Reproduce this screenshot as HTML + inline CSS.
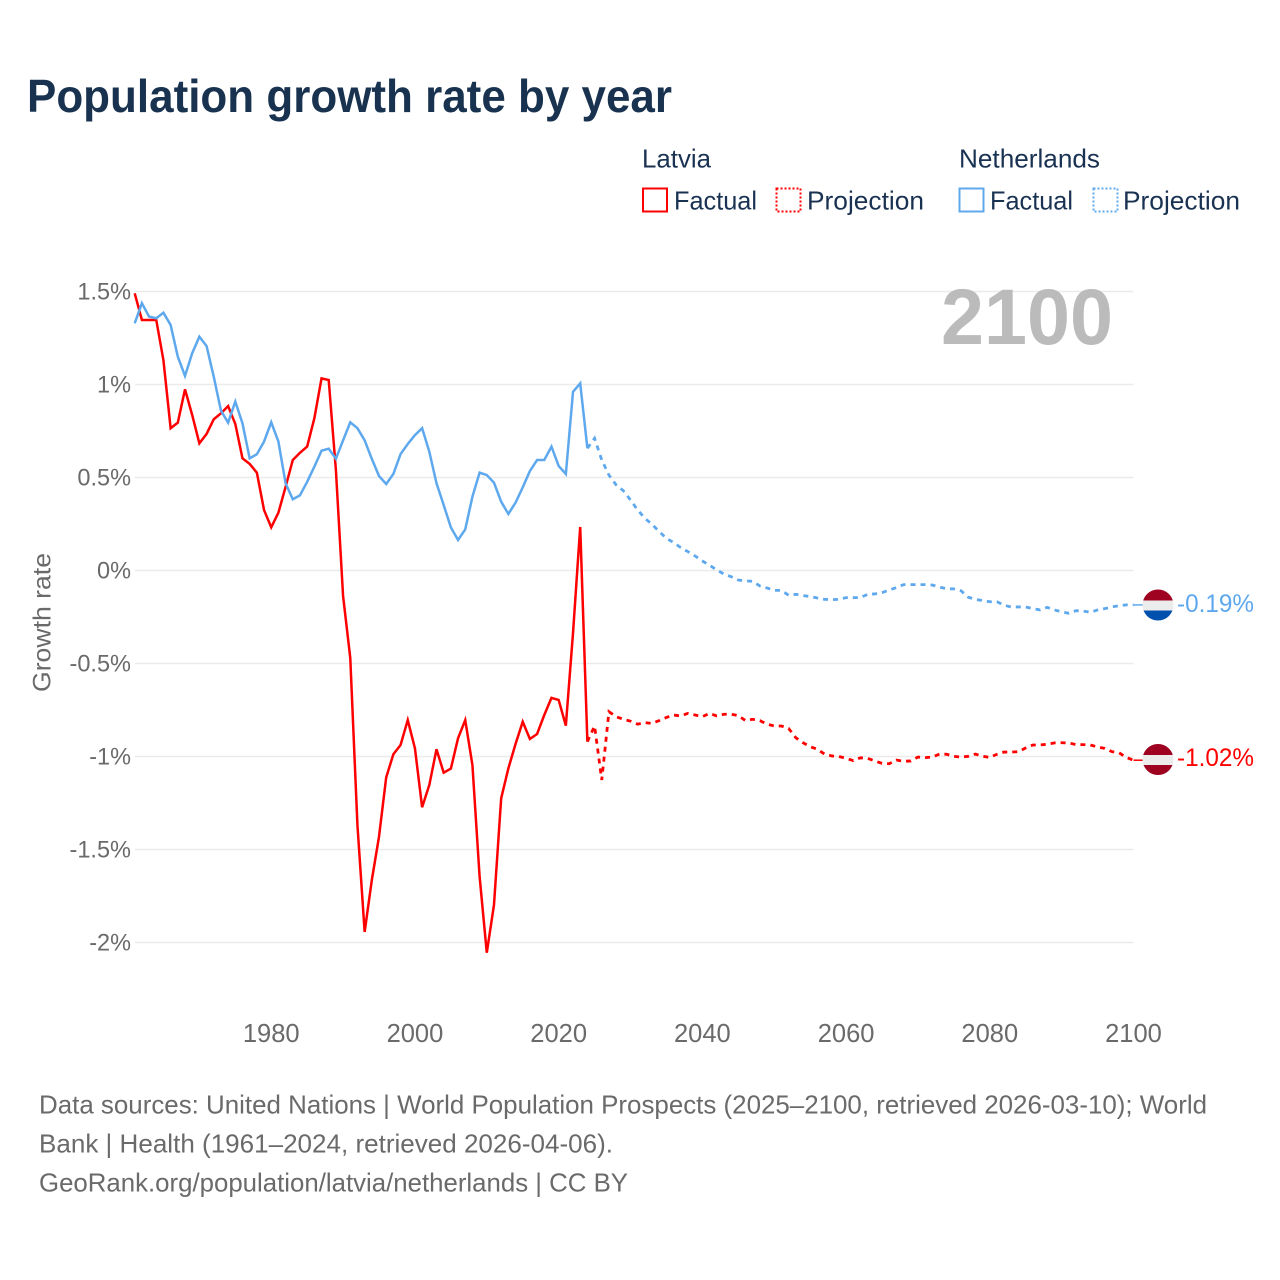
<!DOCTYPE html>
<html lang="en">
<head>
<meta charset="utf-8">
<title>Population growth rate by year</title>
<style>
html,body{margin:0;padding:0;background:#fff;}
svg{display:block;font-family:"Liberation Sans",sans-serif;}
</style>
</head>
<body>
<svg id="chart" xmlns="http://www.w3.org/2000/svg" width="1280" height="1280" viewBox="0 0 1280 1280">
  <rect width="1280" height="1280" fill="#fff"/>
  <text x="27" y="112" font-size="46" font-weight="700" fill="#18324f" textLength="645" lengthAdjust="spacingAndGlyphs">Population growth rate by year</text>

  <g font-size="26" fill="#1a3252">
    <text x="642" y="167.500" textLength="69" lengthAdjust="spacingAndGlyphs">Latvia</text>
    <text x="959" y="167.500" textLength="141" lengthAdjust="spacingAndGlyphs">Netherlands</text>
    <rect x="643" y="188.500" width="24" height="23" fill="none" stroke="#ff0000" stroke-width="2"/>
    <text x="674" y="209.500" textLength="83" lengthAdjust="spacingAndGlyphs">Factual</text>
    <rect x="776.500" y="188.500" width="24" height="23" fill="none" stroke="#ff0000" stroke-width="2" stroke-dasharray="2 2"/>
    <text x="807" y="209.500" textLength="117" lengthAdjust="spacingAndGlyphs">Projection</text>
    <rect x="959.500" y="188.500" width="24" height="23" fill="none" stroke="#5ea8ee" stroke-width="2"/>
    <text x="990" y="209.500" textLength="83" lengthAdjust="spacingAndGlyphs">Factual</text>
    <rect x="1093.500" y="188.500" width="24" height="23" fill="none" stroke="#5ea8ee" stroke-width="2" stroke-dasharray="2 2"/>
    <text x="1123" y="209.500" textLength="117" lengthAdjust="spacingAndGlyphs">Projection</text>
  </g>

  <g id="grid"></g>
  <g id="yticks" font-size="24.500" fill="#6a6a6a"></g>
  <g id="xticks" font-size="25.500" fill="#6a6a6a"></g>
  <text transform="translate(50.500,622.500) rotate(-90)" text-anchor="middle" font-size="25" fill="#6a6a6a" textLength="139" lengthAdjust="spacingAndGlyphs">Growth rate</text>
  <text x="941" y="344" font-size="79" font-weight="700" fill="#bbbbbb" textLength="172" lengthAdjust="spacingAndGlyphs">2100</text>

  <g id="series"></g>

  <g>
    <clipPath id="clip-nl"><circle cx="1158" cy="605" r="15.500"/></clipPath>
    <g clip-path="url(#clip-nl)">
      <rect x="1142" y="589" width="32" height="11.500" fill="#9e0220"/>
      <rect x="1142" y="600.500" width="32" height="10" fill="#ececec"/>
      <rect x="1142" y="610.500" width="32" height="11" fill="#0250ad"/>
    </g>
    <text x="1177" y="612" font-size="25" fill="#5ea8ee" textLength="77" lengthAdjust="spacingAndGlyphs">-0.19%</text>
  </g>
  <g>
    <clipPath id="clip-lv"><circle cx="1158" cy="759.500" r="15.500"/></clipPath>
    <g clip-path="url(#clip-lv)">
      <rect x="1142" y="743" width="32" height="12" fill="#9e0220"/>
      <rect x="1142" y="755" width="32" height="10" fill="#ececec"/>
      <rect x="1142" y="765" width="32" height="11" fill="#9e0220"/>
    </g>
    <text x="1177" y="766" font-size="25" fill="#ff0000" textLength="77" lengthAdjust="spacingAndGlyphs">-1.02%</text>
  </g>

  <g font-size="26" fill="#6a6a6a">
    <text x="39" y="1113.500" textLength="1168" lengthAdjust="spacingAndGlyphs">Data sources: United Nations | World Population Prospects (2025–2100, retrieved 2026-03-10); World</text>
    <text x="39" y="1152.500" textLength="574" lengthAdjust="spacingAndGlyphs">Bank | Health (1961–2024, retrieved 2026-04-06).</text>
    <text x="39" y="1191.500" textLength="589" lengthAdjust="spacingAndGlyphs">GeoRank.org/population/latvia/netherlands | CC BY</text>
  </g>
</svg>

<script>
const factualStartYear = 1961;
const projectionStartYear = 2024;
const yTickValues = [1.5, 1, 0.5, 0, -0.5, -1, -1.5, -2];
const yTickLabels = ["1.5%", "1%", "0.5%", "0%", "-0.5%", "-1%", "-1.5%", "-2%"];
const xTickValues = [1980, 2000, 2020, 2040, 2060, 2080, 2100];

const latviaFactual = [
  1.49, 1.347, 1.347, 1.347, 1.13, 0.765, 0.795, 0.974, 0.836, 0.684,
  0.734, 0.813, 0.845, 0.884, 0.788, 0.603, 0.573, 0.526, 0.325, 0.232,
  0.311, 0.45, 0.594, 0.633, 0.666, 0.818, 1.033, 1.024, 0.54, -0.137,
  -0.47, -1.37, -1.943, -1.664, -1.431, -1.112, -0.988, -0.938, -0.804, -0.956,
  -1.273, -1.153, -0.961, -1.087, -1.065, -0.902, -0.804, -1.046, -1.646, -2.055,
  -1.798, -1.225, -1.064, -0.933, -0.813, -0.906, -0.879, -0.777, -0.685, -0.696,
  -0.834, -0.336, 0.234, -0.92
];
const latviaProjection = [
  -0.92, -0.836, -1.126, -0.759, -0.786, -0.8, -0.81, -0.826, -0.818, -0.822,
  -0.807, -0.79, -0.777, -0.782, -0.768, -0.777, -0.786, -0.768, -0.782, -0.773,
  -0.773, -0.78, -0.807, -0.8, -0.807, -0.826, -0.836, -0.836, -0.849, -0.899,
  -0.926, -0.947, -0.961, -0.987, -0.997, -1.0, -1.01, -1.022, -1.007, -1.01,
  -1.024, -1.037, -1.039, -1.019, -1.026, -1.024, -1.003, -1.006, -1.003, -0.987,
  -0.988, -0.999, -1.003, -0.999, -0.987, -0.999, -1.005, -0.988, -0.976, -0.976,
  -0.974, -0.954, -0.938, -0.938, -0.934, -0.927, -0.926, -0.927, -0.936, -0.936,
  -0.938, -0.949, -0.956, -0.974, -0.98, -1.005, -1.02
];
const netherlandsFactual = [
  1.329, 1.437, 1.365, 1.356, 1.386, 1.32, 1.15, 1.046, 1.168, 1.257,
  1.207, 1.042, 0.86, 0.795, 0.908, 0.791, 0.603, 0.625, 0.693, 0.797,
  0.693, 0.469, 0.383, 0.404, 0.477, 0.558, 0.644, 0.655, 0.601, 0.7,
  0.797, 0.765, 0.7, 0.6, 0.508, 0.465, 0.519, 0.626, 0.68, 0.728,
  0.765, 0.639, 0.469, 0.352, 0.232, 0.164, 0.221, 0.397, 0.526, 0.513,
  0.472, 0.37, 0.304, 0.365, 0.447, 0.535, 0.594, 0.594, 0.666, 0.562,
  0.519, 0.961, 1.006, 0.657
];
const netherlandsProjection = [
  0.657, 0.711, 0.594, 0.513, 0.46, 0.429, 0.379, 0.325, 0.281, 0.248,
  0.209, 0.173, 0.15, 0.123, 0.101, 0.078, 0.051, 0.028, 0.003, -0.019,
  -0.033, -0.051, -0.056, -0.058, -0.083, -0.094, -0.107, -0.107, -0.133, -0.128,
  -0.135, -0.14, -0.148, -0.155, -0.157, -0.155, -0.146, -0.146, -0.146, -0.128,
  -0.126, -0.119, -0.105, -0.092, -0.076, -0.076, -0.076, -0.076, -0.078, -0.089,
  -0.098, -0.099, -0.109, -0.144, -0.155, -0.162, -0.168, -0.168, -0.187, -0.196,
  -0.196, -0.196, -0.205, -0.212, -0.198, -0.212, -0.222, -0.23, -0.216, -0.218,
  -0.225, -0.212, -0.205, -0.196, -0.189, -0.185, -0.185
];

const SVG_NS = "http://www.w3.org/2000/svg";
const colorLatvia = "#ff0000";
const colorNetherlands = "#5ea8ee";

function xScale(year) {
  return 134.7 + (year - 1961) * (1133.5 - 134.7) / (2100 - 1961);
}
function yScale(value) {
  return 570.5 - value * 186;
}
function make(tag, parent) {
  const node = document.createElementNS(SVG_NS, tag);
  parent.appendChild(node);
  return node;
}
function pointsFrom(values, startYear) {
  return values.map(function (v, i) {
    return xScale(startYear + i).toFixed(2) + "," + yScale(v).toFixed(2);
  }).join(" ");
}

const gridGroup = document.getElementById("grid");
const yTickGroup = document.getElementById("yticks");
const xTickGroup = document.getElementById("xticks");
const seriesGroup = document.getElementById("series");

yTickValues.forEach(function (value, i) {
  const line = make("line", gridGroup);
  
  
  line.setAttribute("x1", 135);
  line.setAttribute("x2", 1133.5);
  line.setAttribute("y1", yScale(value));
  line.setAttribute("y2", yScale(value));
  line.setAttribute("stroke", "#ebebeb");
  line.setAttribute("stroke-width", 1.5);

  const label = make("text", yTickGroup);
  
  
  label.setAttribute("x", 131);
  label.setAttribute("y", yScale(value) + 8);
  label.setAttribute("text-anchor", "end");
  label.textContent = yTickLabels[i];
  label.setAttribute("textLength", (label.getComputedTextLength() * 0.96).toFixed(1));
  label.setAttribute("lengthAdjust", "spacingAndGlyphs");
});

xTickValues.forEach(function (year) {
  const label = make("text", xTickGroup);
  
  
  label.setAttribute("x", xScale(year));
  label.setAttribute("y", 1042);
  label.setAttribute("text-anchor", "middle");
  label.textContent = String(year);
});

function drawLine(values, startYear, color, dashed, name) {
  const line = make("polyline", seriesGroup);
  
  
  line.setAttribute("points", pointsFrom(values, startYear));
  line.setAttribute("fill", "none");
  line.setAttribute("stroke", color);
  line.setAttribute("stroke-width", dashed ? 2.8 : 2.5);
  line.setAttribute("stroke-linejoin", "miter");
  if (dashed) {
    line.setAttribute("stroke-dasharray", "5 5");
  }
}
function drawConnector(lastValue, color, name) {
  const line = make("line", seriesGroup);
  
  
  line.setAttribute("x1", xScale(2100));
  line.setAttribute("x2", 1144);
  line.setAttribute("y1", yScale(lastValue));
  line.setAttribute("y2", yScale(lastValue));
  line.setAttribute("stroke", color);
  line.setAttribute("stroke-width", 1.5);
}

drawLine(latviaFactual, factualStartYear, colorLatvia, false, "line-latvia-factual");
drawLine(latviaProjection, projectionStartYear, colorLatvia, true, "line-latvia-projection");
drawLine(netherlandsFactual, factualStartYear, colorNetherlands, false, "line-netherlands-factual");
drawLine(netherlandsProjection, projectionStartYear, colorNetherlands, true, "line-netherlands-projection");
drawConnector(latviaProjection[latviaProjection.length - 1], colorLatvia, "connector-latvia");
drawConnector(netherlandsProjection[netherlandsProjection.length - 1], colorNetherlands, "connector-netherlands");
</script>
</body>
</html>
